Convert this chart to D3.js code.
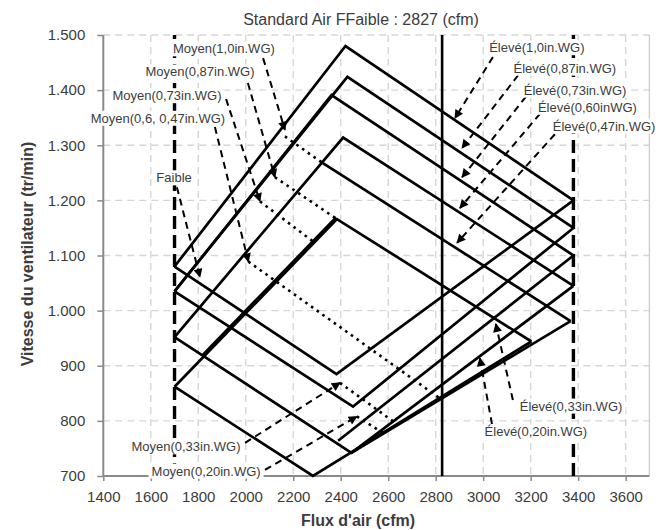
<!DOCTYPE html>
<html lang="fr">
<head>
<meta charset="utf-8">
<title>Vitesse du ventilateur</title>
<script src="https://cdn.jsdelivr.net/npm/d3@7/dist/d3.min.js"></script>
<style>
  html, body { margin: 0; padding: 0; background: #fff; }
  svg { display: block; font-family: "Liberation Sans", Arial, sans-serif; }
</style>
</head>
<body>
<svg id="chart" width="659" height="530"></svg>
<script>
// ---- Axes ----
const xTicks = [1400, 1600, 1800, 2000, 2200, 2400, 2600, 2800, 3000, 3200, 3400, 3600];
const yTicks = [700, 800, 900, 1000, 1100, 1200, 1300, 1400, 1500];
const xDomain = [1400, 3700];
const yDomain = [700, 1500];

// ---- Débits de référence (cfm) ----
const debitMin = 1700;
const debitMax = 3380;
const debitStandard = 2827;

// ---- Courbes (débit cfm, vitesse tr/min) ----
// Branches supérieures : départ à débit min, sommet, arrivée à débit max
const courbe10 = [[1700, 1080], [2420, 1480], [3380, 1200]];
const courbe087 = [[1700, 1035], [2428, 1424], [3380, 1150]];
const courbe073 = [[1700, 1035], [2361, 1391], [3380, 1100]];
const courbe060 = [[1700, 952], [2410, 1314], [3380, 1045]];
const courbe047 = [[2323, 1268], [3368, 981]];
const courbe033 = [[1700, 862], [2384, 1166], [3203, 944]];
const renfort033 = [[1820, 920], [2380, 1169]];
// Branches inférieures : départ à débit min, creux, remontée
const bas10 = [[1700, 1080], [2382, 885], [3380, 1200]];
const bas087 = [[1700, 1035], [2452, 826], [3380, 1150]];
const bas073 = [[2389, 764], [3380, 1100]];
const bas060 = [[1700, 952], [2445, 742], [3380, 1045]];
const bas047 = [[2445, 742], [3368, 981]];
const bas020 = [[1700, 862], [2283, 700], [3203, 944]];

// Segments en pointillés (vitesse moyenne)
const moyen10 = [[2165, 1316], [2323, 1268]];
const moyen087 = [[2123, 1242], [2384, 1166]];
const moyen073 = [[2060, 1198], [2288, 1124]];
const moyen047 = [[2011, 1089], [2817, 841]];
const moyen033 = [[2397, 869], [2637, 794]];
const moyen020 = [[2468, 808], [2578, 778]];

const courbesPleines = [courbe10, courbe087, courbe073, courbe060, courbe047, courbe033, renfort033,
                        bas10, bas087, bas073, bas060, bas047, bas020];
const courbesMoyen = [moyen10, moyen087, moyen073, moyen047, moyen033, moyen020];

// ---- Étiquettes et flèches (coordonnées en cfm / tr/min) ----
const etiquettes = [
  "Moyen(1,0in.WG)", "Moyen(0,87in.WG)", "Moyen(0,73in.WG)", "Moyen(0,6, 0,47in.WG)", "Faible",
  "Moyen(0,33in.WG)", "Moyen(0,20in.WG)",
  "Élevé(1,0in.WG)", "Élevé(0,87in.WG)", "Élevé(0,73in.WG)", "Élevé(0,60inWG)", "Élevé(0,47in.WG)",
  "Élevé(0,33in.WG)", "Élevé(0,20in.WG)"
];
const positionsEtiquettes = [
  [1908, 1475], [1807, 1433], [1668, 1390], [1630, 1349], [1698, 1241],
  [1748, 753], [1833, 709],
  [3226, 1477], [3344, 1440], [3387, 1400], [3439, 1369], [3509, 1335],
  [3370, 827], [3222, 780]
];
const flechesDepart = [
  [2073, 1458], [2009, 1413], [1917, 1384], [1870, 1333], [1710, 1224],
  [1997, 760], [2081, 711],
  [3041, 1460], [3147, 1427], [3180, 1388], [3239, 1357], [3302, 1320],
  [3125, 838], [3037, 794]
];
const flechesCible = [
  [2165, 1328], [2123, 1242], [2060, 1198], [2011, 1089], [1807, 1061],
  [2397, 869], [2468, 808],
  [2881, 1349], [2911, 1295], [2911, 1242], [2902, 1186], [2890, 1123],
  [3053, 976], [2986, 914]
];

// ---- Dessin ----
(function () {
const svg = d3.select("#chart");
const W = 659, H = 530;
const pLeft = 103.3, pRight = 649.4, pTop = 35, pBottom = 476;

const x = d3.scaleLinear().domain(xDomain).range([pLeft, pRight]);
const y = d3.scaleLinear().domain(yDomain).range([pBottom, pTop]);

const fr = d3.formatLocale({ decimal: ",", thousands: ".", grouping: [3], currency: ["", ""] });
const fmtY = fr.format(",d");
const textColor = "#3c3c3c";

svg.append("rect").attr("width", W).attr("height", H).attr("fill", "#fff");

// Grille
const grid = svg.append("g").attr("stroke", "#d6d6d6").attr("stroke-width", 1.4).attr("fill", "none");
grid.selectAll("line.gx").data(xTicks.filter(d => d > xDomain[0])).join("line")
  .attr("x1", d => x(d)).attr("x2", d => x(d)).attr("y1", pTop).attr("y2", pBottom)
  .attr("stroke-dasharray", "7,5");
grid.selectAll("line.gy").data(yTicks.filter(d => d > yDomain[0])).join("line")
  .attr("class", "gy")
  .attr("x1", pLeft).attr("x2", pRight).attr("y1", d => y(d)).attr("y2", d => y(d))
  .attr("stroke-dasharray", "7,5");
grid.append("line").attr("x1", x(xDomain[1])).attr("x2", x(xDomain[1]))
  .attr("y1", pTop).attr("y2", pBottom).attr("stroke", "#cfcfcf");

// Axes
const axisColor = "#8a8a8a";
const yAxis = svg.append("g").attr("transform", `translate(${pLeft},0)`)
  .call(d3.axisLeft(y).tickValues(yTicks).tickFormat(fmtY).tickSize(6).tickPadding(12));
const xAxis = svg.append("g").attr("transform", `translate(0,${pBottom})`)
  .call(d3.axisBottom(x).tickValues(xTicks).tickFormat(d3.format("d")).tickSize(5).tickPadding(10));
[xAxis, yAxis].forEach(g => {
  g.select(".domain").remove();
  g.selectAll(".tick line").attr("stroke", axisColor).attr("stroke-width", 1.5);
  g.selectAll(".tick text").attr("fill", textColor).style("font-size", "15px")
    .style("font-family", '"Liberation Sans", Arial, sans-serif');
});
svg.append("line").attr("x1", pLeft).attr("x2", pLeft).attr("y1", pTop).attr("y2", pBottom)
  .attr("stroke", axisColor).attr("stroke-width", 2);
svg.append("line").attr("x1", pLeft).attr("x2", pRight).attr("y1", pBottom).attr("y2", pBottom)
  .attr("stroke", axisColor).attr("stroke-width", 2);

// Limites de débit (tirets épais) et débit standard
const plot = svg.append("g");
plot.selectAll("line.limite").data([debitMin, debitMax]).join("line")
  .attr("x1", d => x(d)).attr("x2", d => x(d)).attr("y1", y(yDomain[0])).attr("y2", y(yDomain[1]))
  .attr("stroke", "#000").attr("stroke-width", 3.4).attr("stroke-dasharray", "13,6");
plot.append("line")
  .attr("x1", x(debitStandard)).attr("x2", x(debitStandard)).attr("y1", y(yDomain[0])).attr("y2", y(yDomain[1]))
  .attr("stroke", "#000").attr("stroke-width", 2.6);

const line = d3.line().x(d => x(d[0])).y(d => y(d[1]));

plot.selectAll("path.pleine").data(courbesPleines).join("path")
  .attr("d", line).attr("fill", "none").attr("stroke", "#000")
  .attr("stroke-width", 2.7).attr("stroke-linejoin", "miter");

plot.selectAll("path.moyen").data(courbesMoyen).join("path")
  .attr("d", line).attr("fill", "none").attr("stroke", "#000")
  .attr("stroke-width", 2.6).attr("stroke-dasharray", "2.6,4.4");

// Flèches
svg.append("defs").append("marker")
  .attr("id", "tete").attr("viewBox", "0 0 10 10").attr("refX", 9).attr("refY", 5)
  .attr("markerUnits", "userSpaceOnUse").attr("markerWidth", 10).attr("markerHeight", 9)
  .attr("orient", "auto")
  .append("path").attr("d", "M0,0 L10,5 L0,10 Z").attr("fill", "#000");

const fleches = d3.range(etiquettes.length).map(i => [flechesDepart[i], flechesCible[i]]);
plot.selectAll("path.fleche").data(fleches).join("path")
  .attr("d", line).attr("fill", "none").attr("stroke", "#000")
  .attr("stroke-width", 2).attr("stroke-dasharray", "7,5")
  .attr("marker-end", "url(#tete)");

// Étiquettes sur fond blanc
const labels = svg.append("g");
etiquettes.forEach((t, i) => {
  const g = labels.append("g");
  const txt = g.append("text")
    .attr("x", x(positionsEtiquettes[i][0])).attr("y", y(positionsEtiquettes[i][1]))
    .attr("dy", "0.35em").attr("text-anchor", "middle")
    .attr("fill", textColor).style("font-size", "13px").text(t);
  const b = txt.node().getBBox();
  g.insert("rect", "text").attr("x", b.x - 3).attr("y", b.y).attr("width", b.width + 6)
    .attr("height", b.height).attr("fill", "#fff");
});

// Titres
svg.append("text").attr("x", 361).attr("y", 24.5).attr("text-anchor", "middle")
  .attr("fill", textColor).style("font-size", "16px")
  .text("Standard Air FFaible : " + debitStandard + " (cfm)");
svg.append("text").attr("x", 358).attr("y", 526).attr("text-anchor", "middle")
  .attr("fill", textColor).style("font-size", "16px").style("font-weight", "bold")
  .text("Flux d'air (cfm)");
svg.append("text").attr("transform", "translate(33,254) rotate(-90)").attr("text-anchor", "middle")
  .attr("fill", textColor).style("font-size", "16px").style("font-weight", "bold")
  .text("Vitesse du ventilateur (tr/min)");
})();
</script>
</body>
</html>
